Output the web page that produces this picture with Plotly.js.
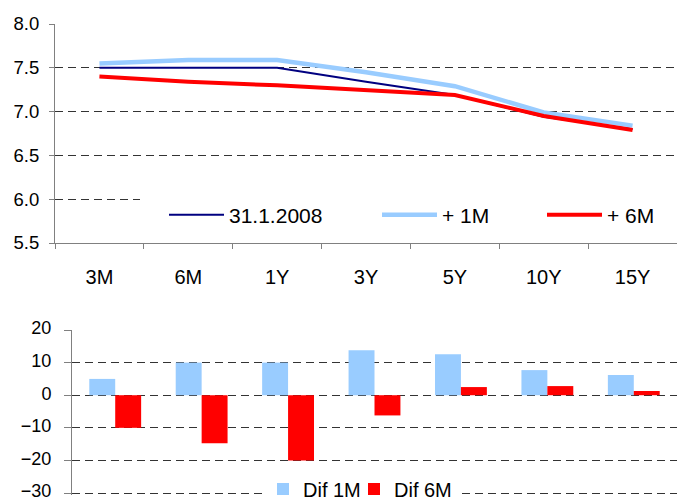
<!DOCTYPE html>
<html><head><meta charset="utf-8">
<script src="https://cdn.plot.ly/plotly-3.0.1.min.js"></script>
<style>html,body{margin:0;padding:0;background:#fff}#chart{width:677px;height:502px}</style>
</head><body><div id="chart"></div>
<script>
const tenors = ['3M','6M','1Y','3Y','5Y','10Y','15Y'];
const curveBase = [7.50, 7.50, 7.50, 7.34, 7.19, 6.94, 6.80];
const curve1M   = [7.55, 7.59, 7.59, 7.45, 7.29, 6.99, 6.84];
const curve6M   = [7.40, 7.34, 7.30, 7.25, 7.19, 6.95, 6.79];
const dif1M = [5, 10, 10, 13.8, 12.6, 7.7, 6.2];
const dif6M = [-10, -14.7, -20, -6.2, 2.5, 2.8, 1.3];
const seriesNames = ['31.1.2008', '+ 1M', '+ 6M'];
const barNames = ['Dif 1M', 'Dif 6M'];

const navy = '#000080', lightBlue = '#99CCFF', red = '#FF0000';
const gridCol = '#333333', axCol = '#808080';
const fam = 'Liberation Sans, Arial, sans-serif';

const traces = [
  {x: tenors, y: curveBase, name: seriesNames[0], type: 'scatter', mode: 'lines',
   line: {color: navy, width: 2}, xaxis: 'x', yaxis: 'y', legend: 'legend', legendwidth: 143},
  {x: tenors, y: curve1M, name: seriesNames[1], type: 'scatter', mode: 'lines',
   line: {color: lightBlue, width: 4.5}, xaxis: 'x', yaxis: 'y', legend: 'legend', legendwidth: 95},
  {x: tenors, y: curve6M, name: seriesNames[2], type: 'scatter', mode: 'lines',
   line: {color: red, width: 4}, xaxis: 'x', yaxis: 'y', legend: 'legend'},
  {x: tenors, y: dif1M, name: barNames[0], type: 'bar', marker: {color: lightBlue, line: {width: 0}},
   xaxis: 'x2', yaxis: 'y2', legend: 'legend2', legendwidth: 46},
  {x: tenors, y: dif6M, name: barNames[1], type: 'bar', marker: {color: red, line: {width: 0}},
   xaxis: 'x2', yaxis: 'y2', legend: 'legend2'}
];

const yFont = {family: fam, size: 18.5, color: '#000'};
const y2Font = {family: fam, size: 18, color: '#000'};
const xFont = {family: fam, size: 20, color: '#000'};
const legFont = {family: fam, size: 21, color: '#000'};
const leg2Font = {family: fam, size: 20, color: '#000'};

const layout = {
  width: 677, height: 502,
  margin: {l: 0, r: 0, t: 0, b: 0, autoexpand: false},
  paper_bgcolor: '#fff', plot_bgcolor: 'rgba(0,0,0,0)',
  font: yFont,
  showlegend: true,
  barmode: 'group', bargap: 0.4, bargroupgap: 0,
  xaxis: {domain: [55/677, 1], anchor: 'y', type: 'category', range: [-0.5, 6.5],
    tickson: 'boundaries', ticks: 'outside', ticklen: 5, tickcolor: axCol, tickwidth: 1,
    showline: true, linecolor: axCol, linewidth: 1, showgrid: false, zeroline: false,
    ticklabelstandoff: 16, tickfont: xFont},
  yaxis: {domain: [1 - 243/502, 1 - 24/502], anchor: 'x', range: [5.5, 8.0], tick0: 5.5, dtick: 0.5,
    tickformat: '.1f', ticks: 'outside', ticklen: 5, tickcolor: axCol,
    showline: true, linecolor: axCol, linewidth: 1, showgrid: true, gridcolor: gridCol,
    griddash: '8px,5px', gridwidth: 1, zeroline: false, tickfont: yFont, ticklabelstandoff: 6},
  xaxis2: {domain: [72/677, 1], anchor: 'y2', type: 'category', range: [-0.5, 6.5],
    showticklabels: false, ticks: '', showline: false, showgrid: false, zeroline: false},
  yaxis2: {domain: [1 - 495/502, 1 - 330/502], anchor: 'x2', range: [-30.6, 20], tick0: 0, dtick: 10,
    ticks: 'outside', ticklen: 7, tickcolor: axCol, showline: true, linecolor: axCol, linewidth: 1,
    showgrid: true, gridcolor: gridCol, griddash: '8px,5px', gridwidth: 1, zeroline: false,
    tickfont: y2Font, ticklabelstandoff: 9, ticklabeloverflow: 'allow', ticklabelshift: -2},
  legend: {orientation: 'h', x: 164/677, xanchor: 'left', y: 1 - 215/502, yanchor: 'middle',
    bgcolor: 'rgba(0,0,0,0)', borderwidth: 0, itemwidth: 55, font: legFont, traceorder: 'normal'},
  legend2: {orientation: 'h', x: 263/677, xanchor: 'left', y: 1 - 489/502, yanchor: 'middle',
    bgcolor: '#fff', borderwidth: 0, font: leg2Font, traceorder: 'normal'},
  shapes: [
    {type: 'rect', xref: 'paper', yref: 'paper', x0: 140/677, x1: 1, y0: 1 - 236/502, y1: 1 - 192/502,
     fillcolor: '#fff', line: {width: 0}, layer: 'above'}
  ]
};

Plotly.newPlot('chart', traces, layout, {staticPlot: true, displayModeBar: false});
</script>
</body></html>
